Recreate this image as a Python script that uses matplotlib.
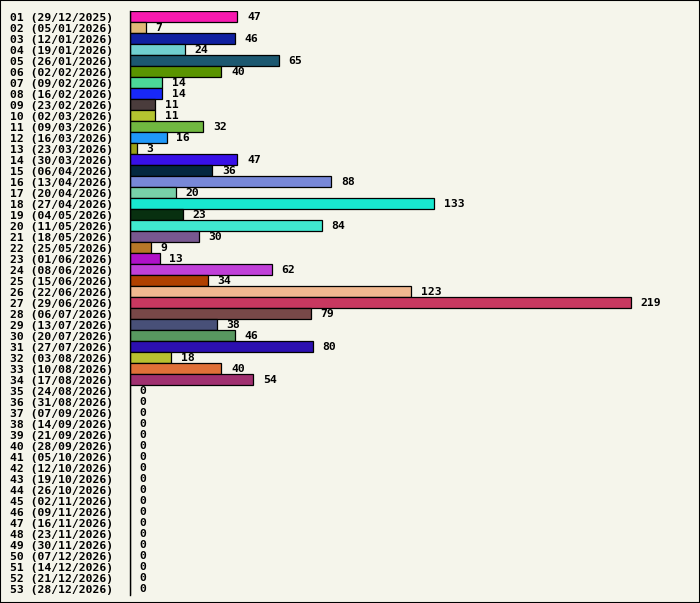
import matplotlib
matplotlib.use("Agg")
import matplotlib.pyplot as plt
from matplotlib.patches import Rectangle

weeks = [f"{i:02d}" for i in range(1, 54)]
dates = ["29/12/2025", "05/01/2026", "12/01/2026", "19/01/2026", "26/01/2026", "02/02/2026",
         "09/02/2026", "16/02/2026", "23/02/2026", "02/03/2026", "09/03/2026", "16/03/2026",
         "23/03/2026", "30/03/2026", "06/04/2026", "13/04/2026", "20/04/2026", "27/04/2026",
         "04/05/2026", "11/05/2026", "18/05/2026", "25/05/2026", "01/06/2026", "08/06/2026",
         "15/06/2026", "22/06/2026", "29/06/2026", "06/07/2026", "13/07/2026", "20/07/2026",
         "27/07/2026", "03/08/2026", "10/08/2026", "17/08/2026", "24/08/2026", "31/08/2026",
         "07/09/2026", "14/09/2026", "21/09/2026", "28/09/2026", "05/10/2026", "12/10/2026",
         "19/10/2026", "26/10/2026", "02/11/2026", "09/11/2026", "16/11/2026", "23/11/2026",
         "30/11/2026", "07/12/2026", "14/12/2026", "21/12/2026", "28/12/2026"]
values = [47, 7, 46, 24, 65, 40, 14, 14, 11, 11, 32, 16, 3, 47, 36, 88, 20, 133, 23, 84,
          30, 9, 13, 62, 34, 123, 219, 79, 38, 46, 80, 18, 40, 54] + [0] * 19
colors = ["#f71aaf", "#e0b878", "#1020a0", "#70d0d0", "#1c5870", "#5a9400", "#4cd898",
          "#1828f8", "#4a3c3c", "#b4c430", "#70b840", "#2098f8", "#98a018", "#3810e8",
          "#042840", "#7888d8", "#78d0a8", "#18e8d0", "#083010", "#40e8d0", "#785890",
          "#b87828", "#b010c8", "#c040d8", "#b04000", "#f0b890", "#c83860", "#784848",
          "#485078", "#589860", "#2c10b0", "#b8c030", "#e07038", "#a03070"] + ["#888888"] * 19

labels = [f"{w} ({d})" for w, d in zip(weeks, dates)]
bg = "#f5f5eb"

W, H = 700, 603
fig = plt.figure(figsize=(W / 100, H / 100), dpi=100, facecolor=bg)
fig.patches.append(Rectangle((0, 0), 1, 1, transform=fig.transFigure, fill=False,
                             edgecolor="black", linewidth=1.5, zorder=10))
ax = fig.add_axes([130 / W, (H - 594.5) / H, 560 / W, 583.5 / H])
ax.set_facecolor(bg)

ypos = list(range(len(values)))
ax.barh(ypos, values, height=1.0, color=colors, edgecolor="black", linewidth=0.9)
ax.set_ylim(len(values) - 0.5, -0.5)
ax.set_xlim(0, 245)

font = dict(family="DejaVu Sans Mono", weight="bold", size=8.2)
ax.set_yticks(ypos)
ax.set_yticklabels(labels, **font)
ax.tick_params(axis="y", length=0, pad=12)
ax.set_xticks([])
for s in ["top", "right", "bottom"]:
    ax.spines[s].set_visible(False)
ax.spines["left"].set_linewidth(1.0)

for y, v in zip(ypos, values):
    ax.annotate(str(v), xy=(v, y), xytext=(7, 0), textcoords="offset points",
                va="center", ha="left", **font)

fig.savefig("out.png", dpi=100, facecolor=bg)
